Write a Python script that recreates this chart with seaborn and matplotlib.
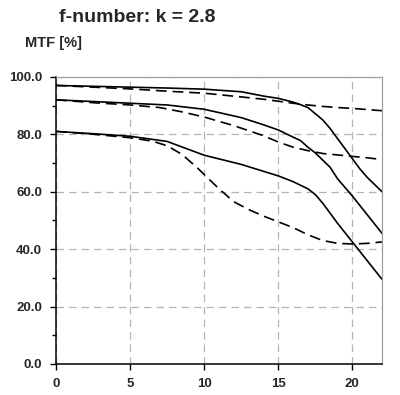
import numpy as np
import pandas as pd
import matplotlib
matplotlib.use("Agg")
import matplotlib.pyplot as plt
import seaborn as sns
from matplotlib.ticker import MultipleLocator, FormatStrFormatter

# MTF curves (x = spatial position, y = MTF in %)
x_s1 = [0, 2.5, 5, 7.5, 10, 12.5, 14, 15, 16, 16.5, 17, 18, 18.5, 19, 19.5, 20, 20.5, 21, 21.5, 22]
y_s1 = [97, 96.7, 96.4, 96.1, 95.7, 94.8, 93.3, 92.5, 91.2, 90.3, 89.3, 85, 82, 78.5, 75, 71.5, 68, 65, 62.5, 60]
x_d1 = [0, 2.5, 5, 7.5, 10, 12.5, 14, 15, 16, 17, 18, 19, 20, 21, 22]
y_d1 = [97, 96.4, 95.8, 95, 94.3, 93, 92.2, 91.5, 90.8, 90.2, 89.7, 89.3, 89, 88.6, 88.2]

x_s2 = [0, 2.5, 5, 7.5, 10, 12.5, 14, 15, 16, 16.5, 17, 17.5, 18, 18.5, 19, 20, 21, 22]
y_s2 = [92, 91.4, 90.8, 90.2, 88.7, 85.8, 83.3, 81.5, 79, 77.8, 75.5, 73.5, 71, 68.5, 64.5, 58.5, 52, 45.5]
x_d2 = [0, 2.5, 5, 7, 8.5, 10, 12, 14, 15, 16, 17, 18, 19, 20, 21, 22]
y_d2 = [92, 91, 90.2, 89.3, 87.8, 86, 83, 79.5, 77.3, 75.5, 74.3, 73.3, 72.8, 72.3, 71.8, 71.2]

x_s3 = [0, 2.5, 5, 7.5, 10, 12.5, 15, 16, 17, 17.5, 18, 18.5, 19, 20, 21, 22]
y_s3 = [81, 80.2, 79.3, 77.5, 72.7, 69.5, 65.5, 63.5, 61, 59, 56, 52.5, 49, 42.5, 36, 29.5]
x_d3 = [0, 2.5, 5, 6.5, 7.5, 8.5, 9.5, 10, 11, 12, 13, 14, 15, 16, 17, 18, 19, 20, 21, 22]
y_d3 = [81, 80, 78.8, 77.6, 76, 73, 68.5, 66, 61, 56.5, 53.8, 51.5, 49.5, 47.5, 45, 43, 42, 41.8, 42, 42.5]

solid = [(x_s1, y_s1), (x_s2, y_s2), (x_s3, y_s3)]
dashed = [(x_d1, y_d1), (x_d2, y_d2), (x_d3, y_d3)]

sns.set_style("ticks")
plt.rcParams['font.family'] = ['Liberation Sans', 'DejaVu Sans']
plt.rcParams['font.weight'] = 'bold'

fig = plt.figure(figsize=(4, 3.95), dpi=100)
ax = fig.add_axes([0.14, 0.0785, 0.815, 0.727])

for xs, ys in solid:
    sns.lineplot(x=xs, y=ys, ax=ax, color='black', linewidth=1.2)
for xs, ys in dashed:
    sns.lineplot(x=xs, y=ys, ax=ax, color='black', linewidth=1.2, linestyle=(0, (6.5, 3.5)))

ax.set_xlim(0, 22)
ax.set_ylim(0, 100)
ax.xaxis.set_major_locator(MultipleLocator(5))
ax.yaxis.set_major_locator(MultipleLocator(20))
ax.yaxis.set_minor_locator(MultipleLocator(10))
ax.yaxis.set_major_formatter(FormatStrFormatter('%.1f'))
ax.grid(True, which='major', color='#b4b4b4', linestyle=(0, (6, 4)), linewidth=0.9)
ax.set_axisbelow(True)

ax.tick_params(axis='both', which='major', length=4, width=1, color='black', labelsize=9.5, pad=6)
ax.tick_params(axis='y', which='minor', length=3, width=1, color='black')
for lab in ax.get_xticklabels() + ax.get_yticklabels():
    lab.set_fontweight('bold')

for side in ['left', 'bottom']:
    ax.spines[side].set_color('black')
    ax.spines[side].set_linewidth(1.1)
for side in ['top', 'right']:
    ax.spines[side].set_visible(True)
    ax.spines[side].set_color('#a0a0a0')
    ax.spines[side].set_linewidth(0.9)

ax.set_xlabel('')
ax.set_ylabel('')

fig.text(0.148, 0.955, 'f-number: k = 2.8', fontsize=14, fontweight='bold', ha='left', va='center')
fig.text(0.062, 0.891, 'MTF [%]', fontsize=10.5, fontweight='bold', ha='left', va='center')

fig.savefig('out.png', dpi=100)
